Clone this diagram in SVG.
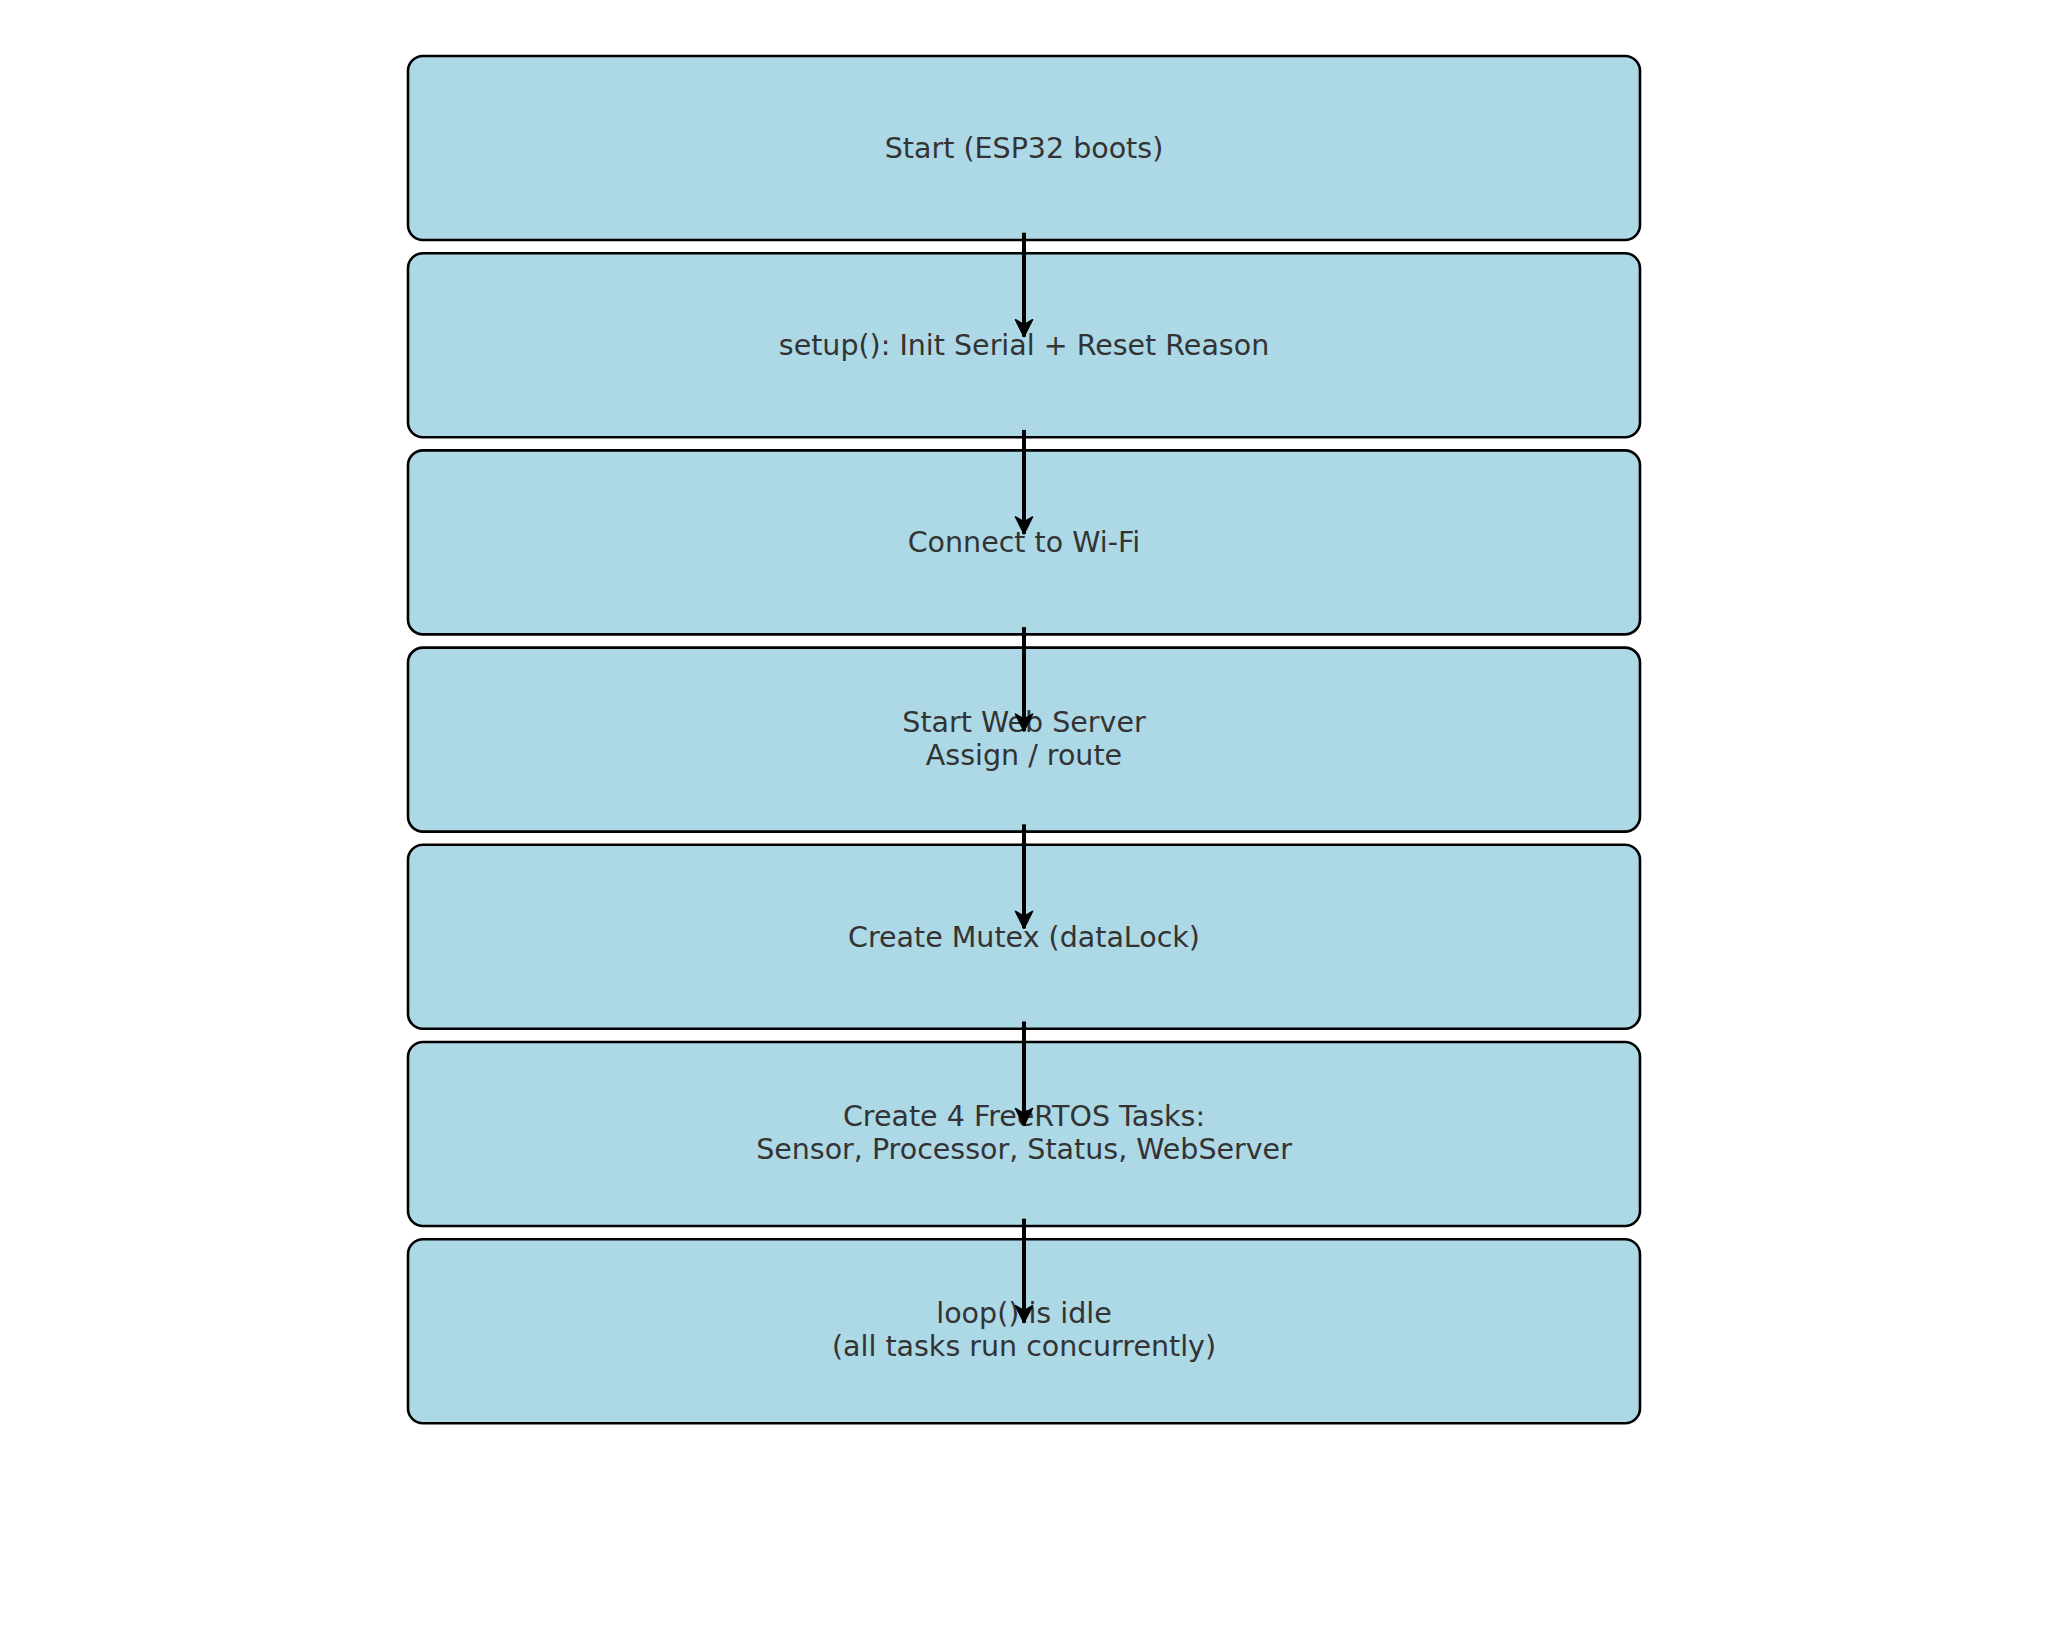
<svg xmlns="http://www.w3.org/2000/svg" width="2048" height="1638" viewBox="0 0 2048 1638">
<defs>
<style>
.box{fill:#ADD8E6;stroke:#000;stroke-width:2.6}
.lbl{font-family:"DejaVu Sans",sans-serif;font-size:28.5px;fill:#333333;text-anchor:middle}
.edge{stroke:#000;stroke-width:4;fill:none}
</style>
<marker id="ah" markerUnits="userSpaceOnUse" markerWidth="28" markerHeight="28" viewBox="-22 -14 28 28" refX="0" refY="0" orient="auto">
<path d="M0,0 L-17,-8.5 L-12,0 L-17,8.5 Z" fill="#000" stroke="#000" stroke-width="1.5" stroke-linejoin="round"/>
</marker>
</defs>
<rect width="2048" height="1638" fill="#fff"/>
<g id="n1"><rect class="box" x="408" y="56" width="1232" height="184" rx="15"/><text class="lbl" x="1024" y="158">Start (ESP32 boots)</text></g>
<g id="n2"><rect class="box" x="408" y="253.2" width="1232" height="184" rx="15"/><text class="lbl" x="1024" y="355.2">setup(): Init Serial + Reset Reason</text></g>
<g id="n3"><rect class="box" x="408" y="450.4" width="1232" height="184" rx="15"/><text class="lbl" x="1024" y="552.4">Connect to Wi-Fi</text></g>
<g id="n4"><rect class="box" x="408" y="647.6" width="1232" height="184" rx="15"/><text class="lbl" x="1024" y="731.5">Start Web Server</text><text class="lbl" x="1024" y="765">Assign / route</text></g>
<g id="n5"><rect class="box" x="408" y="844.8" width="1232" height="184" rx="15"/><text class="lbl" x="1024" y="946.8">Create Mutex (dataLock)</text></g>
<g id="n6"><rect class="box" x="408" y="1042" width="1232" height="184" rx="15"/><text class="lbl" x="1024" y="1125.5">Create 4 FreeRTOS Tasks:</text><text class="lbl" x="1024" y="1159">Sensor, Processor, Status, WebServer</text></g>
<g id="n7"><rect class="box" x="408" y="1239.2" width="1232" height="184" rx="15"/><text class="lbl" x="1024" y="1322.7">loop() is idle</text><text class="lbl" x="1024" y="1356.2">(all tasks run concurrently)</text></g>
<g id="edges">
<line class="edge" x1="1024" y1="232.7" x2="1024" y2="336.7" marker-end="url(#ah)"/>
<line class="edge" x1="1024" y1="429.9" x2="1024" y2="533.9" marker-end="url(#ah)"/>
<line class="edge" x1="1024" y1="627.1" x2="1024" y2="731.1" marker-end="url(#ah)"/>
<line class="edge" x1="1024" y1="824.3" x2="1024" y2="928.3" marker-end="url(#ah)"/>
<line class="edge" x1="1024" y1="1021.5" x2="1024" y2="1125.5" marker-end="url(#ah)"/>
<line class="edge" x1="1024" y1="1218.7" x2="1024" y2="1322.7" marker-end="url(#ah)"/>
</g>
</svg>
